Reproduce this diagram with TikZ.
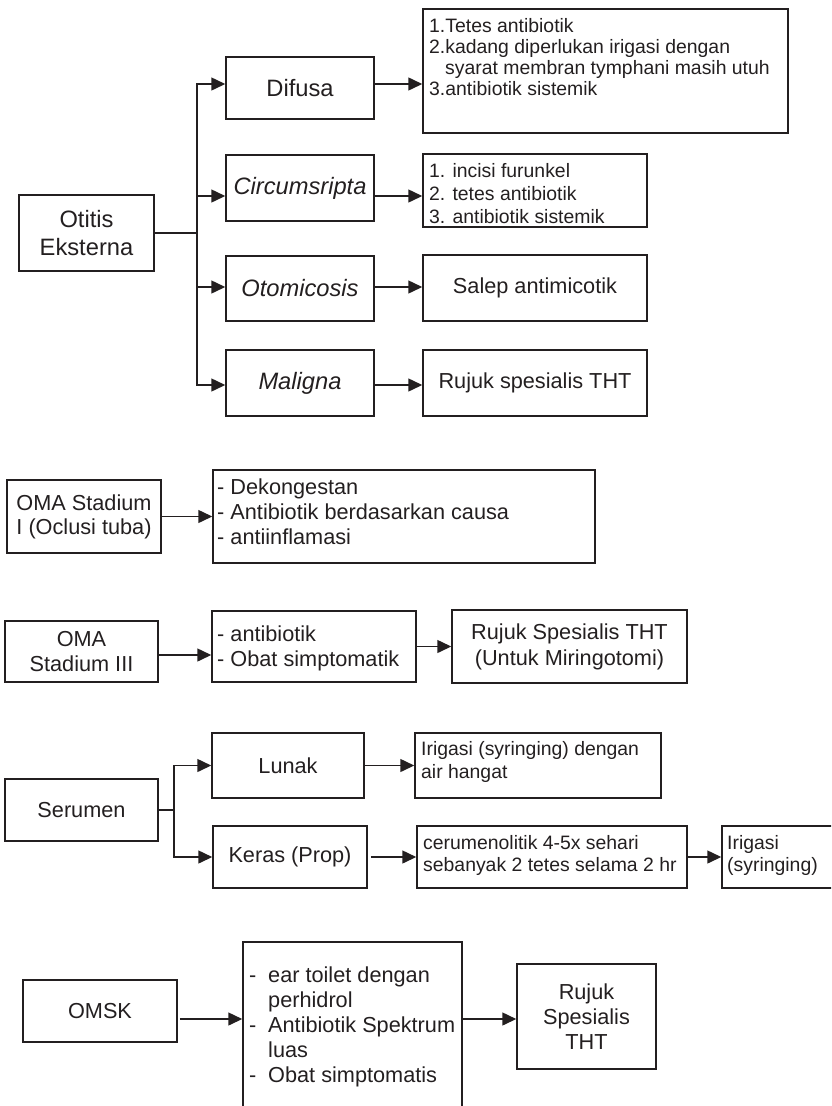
\documentclass[tikz,border=0pt]{standalone}
\usepackage{fontspec}
\setmainfont{Liberation Sans}
\usetikzlibrary{arrows.meta}
\definecolor{ink}{HTML}{231F20}

\begin{document}
\begin{tikzpicture}[x=1pt,y=-1pt,
  every node/.style={text=ink},
  box/.style={draw=ink, line width=1.5pt, inner sep=0pt, align=center},
  sz/.style 2 args={minimum width=#1pt, minimum height=#2pt},
  lab/.style={font=\fontsize{23.7}{28}\selectfont},
  med/.style={font=\fontsize{21.7}{25}\selectfont},
  sml/.style={font=\fontsize{19.4}{21.5}\selectfont},
  txt/.style={anchor=north west, inner sep=0pt, align=left},
  link/.style={draw=ink, line width=1.5pt},
  arr/.style={link, -{Triangle[length=14pt,width=13pt]}},
]
\useasboundingbox (0,0) rectangle (831,1106);
\clip (0,0) rectangle (831,1106);

% ---------- Otitis Eksterna ----------
\node[box, sz={135}{76}, lab] (otitis) at (86.5,233) {Otitis\\Eksterna};
\node[box, sz={148}{62}, lab] (difusa) at (300,88) {Difusa};
\node[box, sz={148}{66}, lab] (circ) at (300,188) {\textit{Circumsripta}};
\node[box, sz={148}{65}, lab] (otom) at (300,288.5) {\textit{Otomicosis}};
\node[box, sz={148}{66}, lab] (malig) at (300,383) {\textit{Maligna}};

\node[box, sz={365}{124}] (rdif) at (605.5,71) {};
\node[txt, font=\fontsize{19.4}{21}\selectfont] (rdif-t) at (429,18)
  {1.Tetes antibiotik\\2.kadang diperlukan irigasi dengan\\\hspace*{16pt}syarat membran tymphani masih utuh\\3.antibiotik sistemik};
\node[box, sz={224}{73}] (rcirc) at (535,190.5) {};
\node[txt, font=\fontsize{19.4}{23}\selectfont] (rcirc-t) at (429,163)
  {1. incisi furunkel\\2. tetes antibiotik\\3. antibiotik sistemik};
\node[box, sz={224}{66}, med] (rotom) at (535,288) {Salep antimicotik};
\node[box, sz={224}{66}, med] (rmal) at (535,383) {Rujuk spesialis THT};

\path (otitis.east) ++(42,0) coordinate (tj);
\coordinate (a1) at (196,84);
\coordinate (a2) at (196,196);
\coordinate (a3) at (196,287);
\coordinate (a4) at (196,385);
\draw[link] (otitis.east) -- (tj);
\draw[arr] (tj) |- (a1 -| difusa.west);
\draw[arr] (tj) |- (a4 -| malig.west);
\draw[arr] (a2) -- (a2 -| circ.west);
\draw[arr] (a3) -- (a3 -| otom.west);
\draw[arr] (a1 -| difusa.east) -- (a1 -| rdif.west);
\draw[arr] (a2 -| circ.east) -- (a2 -| rcirc.west);
\draw[arr] (a3 -| otom.east) -- (a3 -| rotom.west);
\draw[arr] (a4 -| malig.east) -- (a4 -| rmal.west);

% ---------- OMA Stadium I ----------
\node[box, sz={154}{73}, font=\fontsize{21.7}{24}\selectfont, align=left] (oma1) at (84,516.5) {OMA Stadium\\I (Oclusi tuba)};
\node[box, sz={382}{93}] (roma1) at (404,516.5) {};
\node[txt, med] (roma1-t) at (217,479) {- Dekongestan\\- Antibiotik berdasarkan causa\\- antiinflamasi};
\draw[arr] (oma1) -- (roma1);

% ---------- OMA Stadium III ----------
\node[box, sz={153}{61}, med] (oma3) at (81.5,651.5) {OMA\\Stadium III};
\node[box, sz={204}{71}] (roma3) at (314,646.5) {};
\node[txt, med] (roma3-t) at (217,626) {- antibiotik\\- Obat simptomatik};
\node[box, sz={235}{73}, font=\fontsize{21.7}{26}\selectfont] (rujuk3) at (569.5,646.5) {Rujuk Spesialis THT\\(Untuk Miringotomi)};
\path (oma3.east) ++(0,3.5) coordinate (b1);
\draw[arr] (b1) -- (b1 -| roma3.west);
\draw[arr] (roma3) -- (rujuk3);

% ---------- Serumen ----------
\node[box, sz={153}{62}, med] (serumen) at (81.5,810) {Serumen};
\node[box, sz={152}{65}, med] (lunak) at (288,765.5) {Lunak};
\node[box, sz={154}{62}, med] (keras) at (290,857) {Keras (Prop)};
\node[box, sz={246}{65}] (rlunak) at (538,765.5) {};
\node[txt, font=\fontsize{19.4}{23}\selectfont] (rlunak-t) at (421,741) {Irigasi (syringing) dengan\\air hangat};
\node[box, sz={270}{62}] (rkeras) at (552,857) {};
\node[txt, font=\fontsize{19.4}{22}\selectfont] (rkeras-t) at (423,835) {cerumenolitik 4-5x sehari\\sebanyak 2 tetes selama 2 hr};
\node[box, sz={130}{62}] (irig) at (787,857) {};
\node[txt, font=\fontsize{19.4}{22}\selectfont] (irig-t) at (727,835) {Irigasi\\(syringing)};

\path (serumen.east) ++(15,0) coordinate (sj);
\draw[link] (serumen.east) -- (sj);
\draw[arr] (sj) |- (lunak.west);
\draw[arr] (sj) |- (keras.west);
\draw[arr] (lunak) -- (rlunak);
\draw[arr, shorten <=3pt] (keras) -- (rkeras);
\draw[arr] (rkeras) -- (irig);

% ---------- OMSK ----------
\node[box, sz={154}{62}, med] (omsk) at (100,1011) {OMSK};
\node[box, sz={219}{190}] (romsk) at (352.5,1037) {};
\node[txt, font=\fontsize{21.7}{24.8}\selectfont] (romsk-t) at (249,967)
  {\makebox[19pt][l]{-}ear toilet dengan\\\hspace*{19pt}perhidrol\\\makebox[19pt][l]{-}Antibiotik Spektrum\\\hspace*{19pt}luas\\\makebox[19pt][l]{-}Obat simptomatis};
\node[box, sz={139}{105}, font=\fontsize{21.7}{25}\selectfont] (rjk) at (586.5,1016.5) {Rujuk\\Spesialis\\THT};
\path (omsk.east) ++(0,8) coordinate (c1);
\draw[arr, shorten <=2pt] (c1) -- (c1 -| romsk.west);
\draw[arr] (c1 -| romsk.east) -- (c1 -| rjk.west);

\end{tikzpicture}
\end{document}
